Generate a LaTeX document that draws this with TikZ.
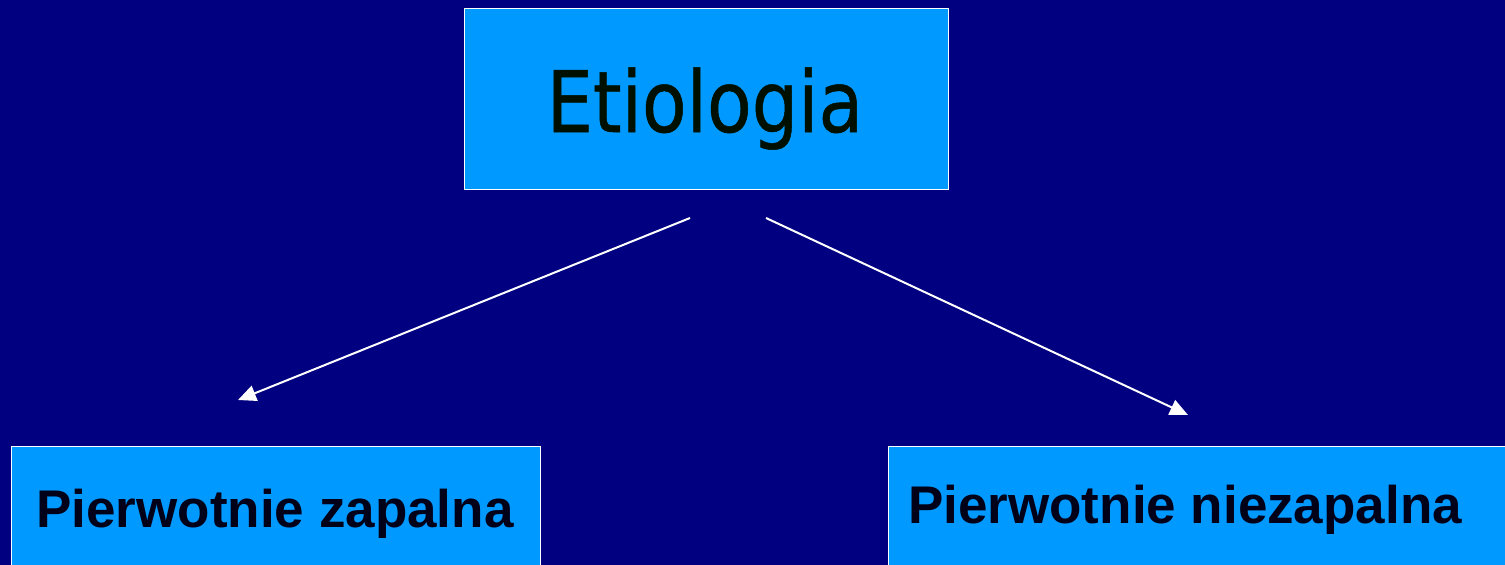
\documentclass[tikz,border=0pt]{standalone}
\usepackage{fontspec}
\setmainfont{Liberation Sans}
\newfontfamily\etfont[FakeStretch=0.86,FakeBold=0.6]{DejaVu Sans}
\usetikzlibrary{arrows.meta}
\definecolor{bgnavy}{HTML}{000080}
\definecolor{boxblue}{HTML}{0099FF}
\definecolor{etxt}{HTML}{001000}
\definecolor{btxt}{HTML}{000018}
\tikzset{
  box/.style={draw=white, line width=1.6pt, fill=boxblue, inner sep=0pt},
  lbl/.style={inner sep=0pt, anchor=base},
  conn/.style={draw=white, line width=2pt, -{Triangle[length=18pt,width=16pt]}}
}
\begin{document}
\begin{tikzpicture}[x=1pt,y=-1pt]
\fill[bgnavy] (0,0) rectangle (1505,565);
\clip (0,0) rectangle (1505,565);
% boxes
\node[box, minimum width=484pt, minimum height=181pt, anchor=north west] (top) at (463.5,7.5) {};
\node[box, minimum width=529pt, minimum height=160pt, anchor=north west] (left) at (10.5,445.5) {};
\node[box, minimum width=650pt, minimum height=160pt, anchor=north west] (right) at (887.5,445.5) {};
% texts
\node[lbl, text=etxt, font=\etfont\fontsize{85}{90}\selectfont] (ttop) at (705,132) {Etiologia};
\node[lbl, text=btxt, font=\bfseries\fontsize{53}{60}\selectfont] (tleft) at (275,527) {Pierwotnie zapalna};
\node[lbl, text=btxt, font=\bfseries\fontsize{53}{60}\selectfont, anchor=base west] (tright) at (908,523) {Pierwotnie niezapalna};
% connector end points
\coordinate (s1) at (690,218);
\coordinate (e1) at (238,400);
\coordinate (s2) at (766,218);
\coordinate (e2) at (1188,415);
\draw[conn] (s1) -- (e1);
\draw[conn] (s2) -- (e2);
\end{tikzpicture}
\end{document}
